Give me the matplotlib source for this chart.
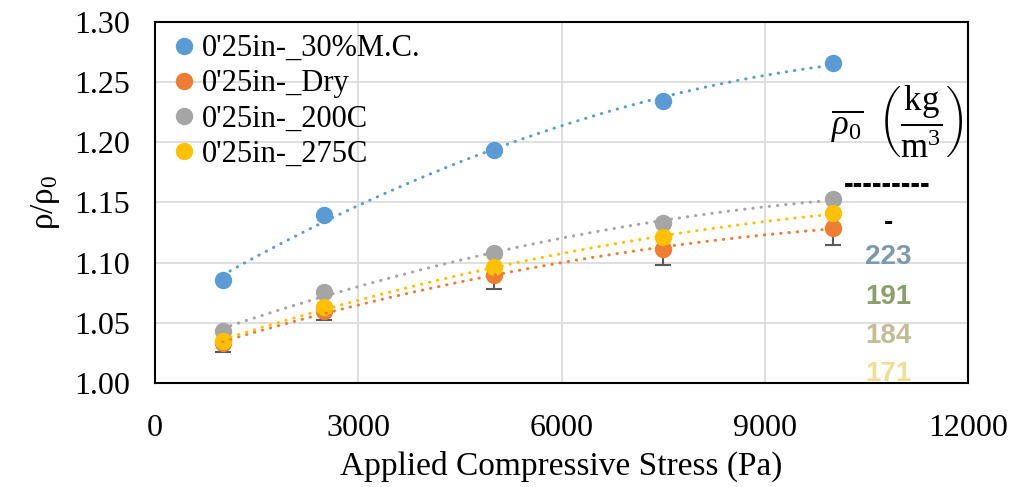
import matplotlib

matplotlib.use("Agg")
import matplotlib.pyplot as plt
import numpy as np

plt.rcParams["font.family"] = ["Liberation Serif", "DejaVu Serif"]
plt.rcParams["mathtext.fontset"] = "custom"
plt.rcParams["mathtext.rm"] = "Liberation Serif"
plt.rcParams["mathtext.it"] = "Liberation Serif:italic"

# applied stress (Pa)
stress = [1000, 2500, 5000, 7500, 10000]

# rho / rho0 per sample set
mc30 = [1.086, 1.140, 1.194, 1.234, 1.266]
dry = [1.033, 1.060, 1.090, 1.111, 1.129]
c200 = [1.043, 1.076, 1.108, 1.133, 1.153]
c275 = [1.035, 1.063, 1.096, 1.121, 1.141]
dry_err = [0.007, 0.008, 0.012, 0.013, 0.014]

labels = ["0'25in-_30%M.C.", "0'25in-_Dry", "0'25in-_200C", "0'25in-_275C"]
colors = ["#5B9BD5", "#ED7D31", "#A5A5A5", "#FFC000"]

density_vals = ["-", "223", "191", "184", "171"]
density_cols = ["black", "#7D9AAA", "#8A9F6A", "#C4BC96", "#EEDF96"]
density_y = [1.133, 1.1047, 1.0711, 1.0391, 1.0075]

fig = plt.figure(figsize=(10.09, 4.87), dpi=100)
ax = fig.add_axes([0.1536, 0.2136, 0.8058, 0.7412])

x = np.array(stress, dtype=float)
series = [mc30, dry, c200, c275]

ax.errorbar(x, dry, yerr=[dry_err, [0] * 5], fmt="none", ecolor="#595959",
            elinewidth=1.5, capsize=6, capthick=1.5, zorder=2)

for ys, lab, col in zip(series, labels, colors):
    ax.plot(x, ys, "o", ms=11.5, color=col, label=lab, zorder=3)

# excel-style polynomial trendlines, drawn over the markers
xs = np.linspace(x[0], x[-1], 200)
for ys, col in zip(series, colors):
    p = np.polyfit(x, ys, 2)
    ax.plot(xs, np.polyval(p, xs), color=col, lw=2.2,
            ls=(0, (0.1, 2.6)), dash_capstyle="round", zorder=4)

ax.set_xlim(0, 12000)
ax.set_ylim(1.0, 1.3)
ax.set_xticks(np.arange(0, 12001, 3000))
ax.set_yticks(np.arange(1.0, 1.301, 0.05))
ax.set_yticklabels([f"{v:.2f}" for v in np.arange(1.0, 1.301, 0.05)])
ax.tick_params(length=0, labelsize=23)
ax.tick_params(axis="x", pad=22)
ax.tick_params(axis="y", pad=18)
ax.grid(True, color="#D9D9D9", lw=1.2)
ax.set_axisbelow(True)
for sp in ax.spines.values():
    sp.set_linewidth(1.5)
    sp.set_zorder(5)

ax.set_xlabel("Applied Compressive Stress (Pa)", fontsize=24, labelpad=6)
ax.set_ylabel(r"$\mathrm{\rho}/\mathrm{\rho}_0$", fontsize=24, labelpad=9)

ax.legend(loc="upper left", fontsize=22, frameon=False, handletextpad=0.05,
          borderaxespad=0.1, labelspacing=0.2, handlelength=1.1,
          borderpad=0.3)

ax.text(10950, 1.2169,
        r"$\overline{\rho_0}\ \ \left(\dfrac{\mathrm{kg}}{\mathrm{m}^3}\right)$",
        fontsize=25, ha="center", va="center", clip_on=False, zorder=6)
ax.text(10804, 1.1645, "---------", fontsize=21, fontweight="bold",
        family="Liberation Sans", ha="center", va="center", clip_on=False)
for txt, col, yy in zip(density_vals, density_cols, density_y):
    ax.text(10819, yy, txt, fontsize=20, fontweight="bold", color=col,
            family="Liberation Sans", ha="center", va="center",
            clip_on=False, zorder=6)

fig.savefig("out.png", dpi=100)
